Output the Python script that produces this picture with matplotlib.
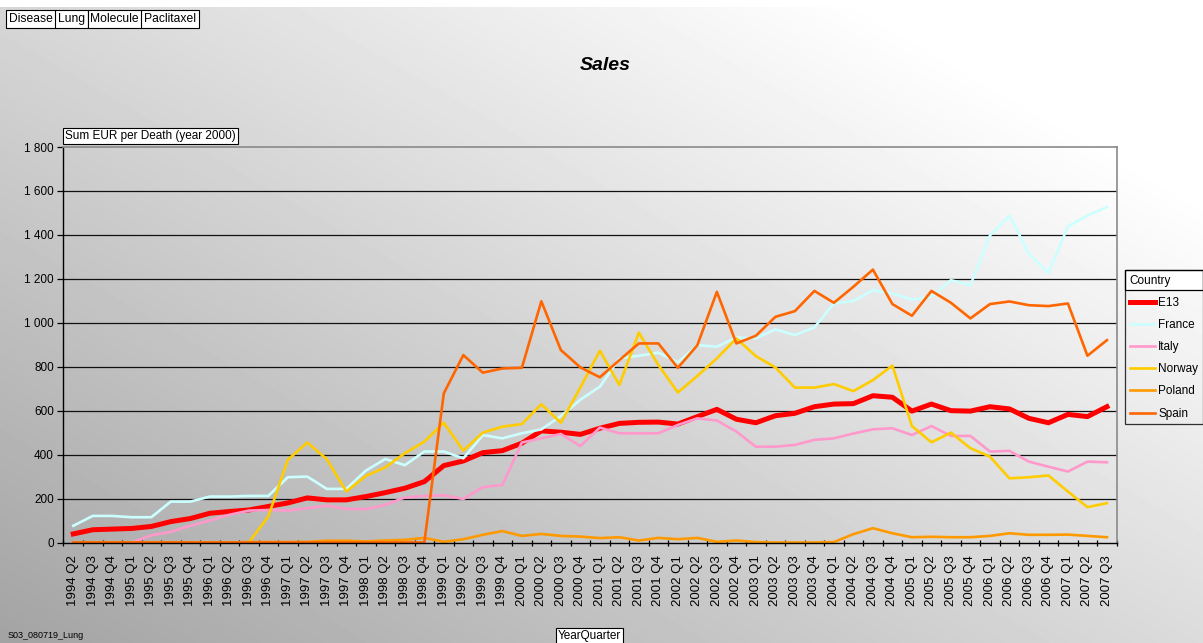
import numpy as np
import matplotlib
matplotlib.use('Agg')
import matplotlib.pyplot as plt
from matplotlib.patches import Rectangle

plt.rcParams['font.family'] = ['Liberation Sans', 'DejaVu Sans']

# categories: 1994 Q2 .. 2007 Q3
quarters = [f'{y} Q{q}' for y in range(1994, 2008) for q in range(1, 5)][1:-1]
header = ['Disease', 'Lung', 'Molecule', 'Paclitaxel']

e13 = [39, 58, 61, 64, 73, 95, 109, 133, 141, 148, 164, 180,
       203, 194, 194, 209, 227, 247, 277, 350, 371, 409, 418, 452, 508, 502,
       492, 520, 542, 547, 548, 539, 573, 606, 561, 545, 577, 588, 618, 630,
       632, 668, 661, 598, 630, 600, 598, 618, 608, 565, 545, 583, 573, 618]
france = [76, 121, 121, 115, 115, 186, 186, 209, 209, 212, 212, 297,
          300, 244, 244, 327, 380, 352, 414, 414, 383, 489, 474, 497, 515, 575,
          650, 709, 838, 850, 864, 820, 898, 891, 933, 929, 970, 944, 979, 1088,
          1099, 1148, 1133, 1106, 1118, 1194, 1171, 1397, 1488, 1314, 1226, 1439, 1488, 1527]
italy = [np.nan, np.nan, np.nan, 0, 33, 48, 76, 100, 126, 145, 148, 145,
         156, 168, 153, 152, 171, 205, 212, 215, 198, 252, 262, 455, 474, 494,
         439, 523, 497, 497, 497, 535, 565, 555, 505, 436, 436, 444, 467, 474,
         496, 515, 520, 489, 530, 485, 485, 414, 417, 368, 345, 323, 368, 365]
norway = [np.nan] * 9 + [0, 118, 376,
          455, 379, 232, 303, 342, 406, 459, 545, 418, 500, 527, 539, 629, 545,
          705, 873, 717, 955, 808, 683, 758, 838, 929, 848, 797, 705, 705, 721,
          689, 739, 805, 530, 456, 500, 429, 391, 292, 297, 305, 232, 161, 179]
poland = [0, 0, 0, 0, 0, 0, 0, 0, 0, 2, 2, 2,
          3, 8, 8, 5, 9, 12, 21, 3, 15, 35, 52, 30, 39, 30,
          27, 20, 24, 9, 21, 15, 21, 3, 9, 2, 0, 0, 0, 2,
          38, 65, 42, 24, 26, 24, 24, 30, 42, 35, 35, 36, 30, 24]
spain = [0] * 19 + [679, 853, 773, 792, 795, 1098, 876,
         797, 752, 830, 906, 906, 795, 898, 1141, 906, 941, 1027, 1053, 1145, 1091,
         1164, 1242, 1085, 1032, 1145, 1091, 1020, 1085, 1097, 1080, 1076, 1088, 850, 921]

series = [('E13', e13, '#FF0000', 3.6),
          ('France', france, '#CCFFFF', 1.9),
          ('Italy', italy, '#FF99CC', 1.9),
          ('Norway', norway, '#FFCC00', 1.9),
          ('Poland', poland, '#FF9900', 1.9),
          ('Spain', spain, '#FF6600', 1.9)]

W, H = 1203, 643
fig = plt.figure(figsize=(W / 100, H / 100), dpi=100)
inv = fig.transFigure.inverted()

# gradient background
bg = fig.add_axes([0, 0, 1, 1], zorder=0)
gx, gy = np.meshgrid(np.linspace(0, 1, 300), np.linspace(1, 0, 200))
shade = np.clip(0.64 + 0.22 * gx + 0.20 * gy, 0, 1)
bg.imshow(shade, cmap='gray', vmin=0, vmax=1, extent=[0, 1, 0, 1 - 7 / H],
          aspect='auto', interpolation='bilinear')
bg.set_xlim(0, 1)
bg.set_ylim(0, 1)
bg.axis('off')

ax = fig.add_axes([63.5 / W, 1 - 542.5 / H, 1053.2 / W, 395.5 / H], zorder=1)
ax.patch.set_alpha(0)

x = np.arange(len(quarters))
for name, vals, col, lw in series:
    ax.plot(x, vals, color=col, lw=lw, label=name, solid_joinstyle='round')

ax.set_xlim(-0.5, len(quarters) - 0.5)
ax.set_ylim(0, 1800)
yt = np.arange(0, 1801, 200)
ax.set_yticks(yt)
ax.set_yticklabels([f'{v:,.0f}'.replace(',', ' ') for v in yt], fontsize=8.5)
for v in yt[1:-1]:
    ax.axhline(v, color='#111111', lw=0.9, zorder=0)
ax.set_xticks(x)
ax.set_xticklabels(quarters, rotation=90, fontsize=9.5)
ax.set_xticks(np.arange(-0.5, len(quarters), 1), minor=True)
ax.tick_params(axis='x', which='major', length=0, pad=9)
ax.tick_params(axis='x', which='minor', length=5, direction='inout', width=0.9)
ax.tick_params(axis='y', length=4, width=0.9, pad=3)
for s in ['top', 'right']:
    ax.spines[s].set_color('#8a8a8a')
    ax.spines[s].set_linewidth(1.2)
for s in ['left', 'bottom']:
    ax.spines[s].set_color('black')
    ax.spines[s].set_linewidth(1.0)

fig.text(605 / W, 1 - 66 / H, 'Sales', fontsize=14, fontweight='bold',
         style='italic', ha='center', va='center')

box = dict(boxstyle='square,pad=0.15', fc='white', ec='black', lw=0.8)
fig.text(65 / W, 1 - 136 / H, 'Sum EUR per Death (year 2000)', fontsize=8.5,
         ha='left', va='center', bbox=box)
fig.text(558 / W, 1 - 636 / H, 'YearQuarter', fontsize=8.5, ha='left',
         va='center', bbox=box)
fig.text(8 / W, 1 - 635 / H, 'S03_080719_Lung', fontsize=6.5, ha='left', va='center')

# adjacent header boxes
hbox = dict(boxstyle='square,pad=0.22', fc='white', ec='black', lw=0.8)
hx = 9 / W
for lbl in header:
    t = fig.text(hx, 1 - 19 / H, lbl, fontsize=8.7, ha='left', va='center', bbox=hbox)
    fig.canvas.draw()
    pb = t.get_bbox_patch().get_window_extent()
    hx = inv.transform((pb.x1, 0))[0] + 2.5 / W

leg = fig.legend(loc='upper left', bbox_to_anchor=(1125 / W, 1 - 270 / H),
                 frameon=True, fontsize=8.5, title='Country', title_fontsize=8.5,
                 alignment='left', handlelength=2.1, labelspacing=0.86,
                 borderaxespad=0, borderpad=0.4, handletextpad=0.3, fancybox=False)
leg.get_frame().set_facecolor('none')
leg.get_frame().set_edgecolor('black')
leg.get_frame().set_linewidth(0.9)
leg.set_zorder(5)

fig.canvas.draw()
lb = leg.get_window_extent()
tb = leg.get_title().get_window_extent()
(x0, y0), (x1, y1) = inv.transform([(lb.x0, tb.y0 - 3), (lb.x1, lb.y1)])
fig.patches.append(Rectangle((x0, y0), x1 - x0, y1 - y0, transform=fig.transFigure,
                             fc='white', ec='black', lw=0.9, zorder=4))

fig.savefig('out.png', dpi=100)
